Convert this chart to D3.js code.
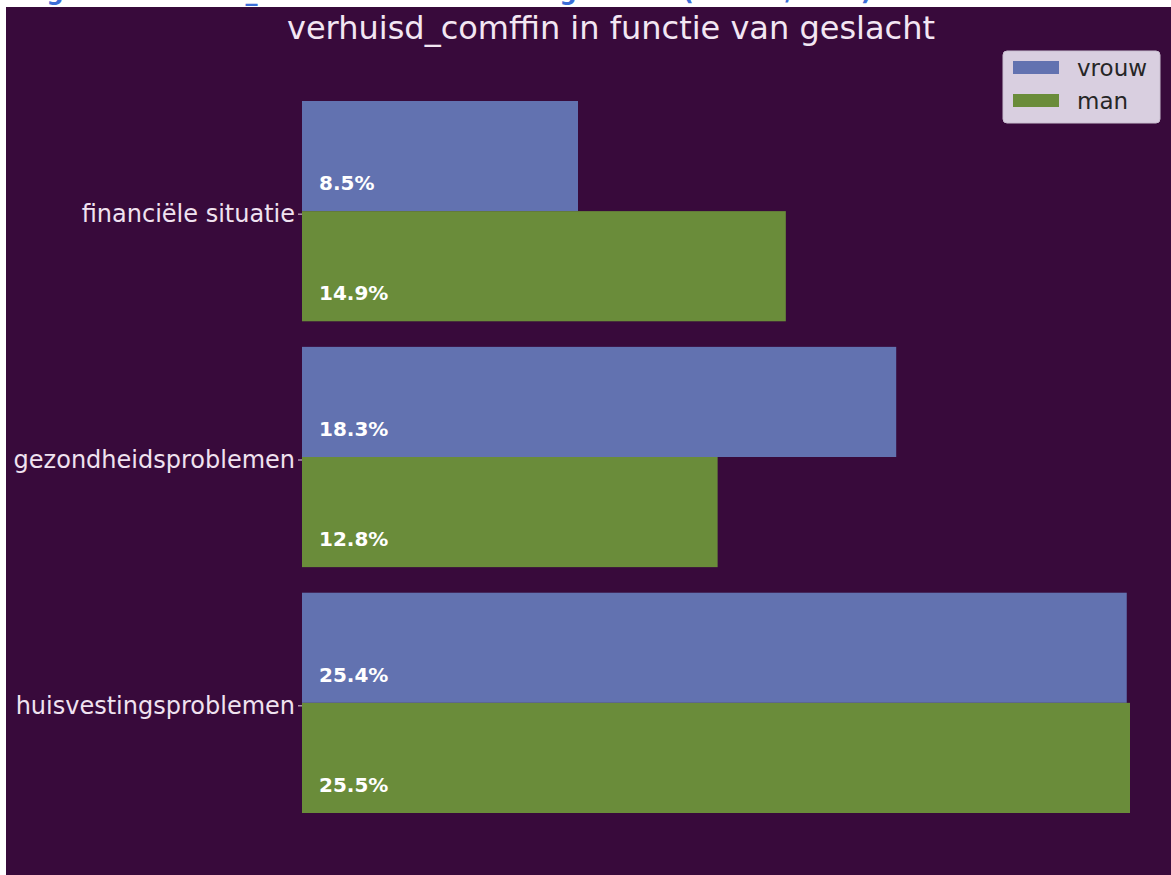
<!DOCTYPE html>
<html>
<head>
<meta charset="utf-8">
<script src="https://cdn.jsdelivr.net/npm/d3@7"></script>
<style>
  body { margin: 0; background: #fff; }
  svg { display: block; font-family: "DejaVu Sans", sans-serif; }
</style>
</head>
<body>
<svg width="1171" height="875"></svg>
<script>
// data
var categories = ["financiële situatie", "gezondheidsproblemen", "huisvestingsproblemen"];
var seriesNames = ["vrouw", "man"];
var vrouw = [8.5, 18.3, 25.4];
var man = [14.9, 12.8, 25.5];
var colors = ["#6272b0", "#6a8c3a"];

var svg = d3.select("svg"),
    width = +svg.attr("width"),
    height = +svg.attr("height");

// clipped heading of the page above the figure
var clip = svg.append("clipPath").attr("id", "topclip");
clip.append("rect").attr("x", 0).attr("y", 0).attr("width", width).attr("height", 7);
svg.append("text")
    .attr("clip-path", "url(#topclip)")
    .attr("x", 22)
    .attr("y", 0)
    .attr("fill", "#3b6fd8")
    .attr("font-size", 24)
    .attr("font-weight", "bold")
    .text("Figuur: verhuisd_comffin in functie van geslacht (vrouw / man)");

// figure background
svg.append("rect")
    .attr("x", 6).attr("y", 7)
    .attr("width", width - 6).attr("height", height - 7)
    .attr("fill", "#380a3b");

svg.append("text")
    .attr("x", 611)
    .attr("y", 39)
    .attr("text-anchor", "middle")
    .attr("fill", "#f3e6f3")
    .attr("font-size", 32)
    .text("verhuisd_comffin in functie van geslacht");

var x = d3.scaleLinear()
    .domain([0, 25.5])
    .range([302, 1130]);

var y = d3.scaleBand()
    .domain(categories)
    .range([101, 813])
    .paddingInner(0.104)
    .paddingOuter(0);

var sub = d3.scaleBand()
    .domain(seriesNames)
    .range([0, y.bandwidth()]);

var rows = [];
categories.forEach(function(c, i) {
  rows.push({cat: c, s: "vrouw", v: vrouw[i], col: colors[0]});
  rows.push({cat: c, s: "man", v: man[i], col: colors[1]});
});

var g = svg.append("g");

g.selectAll("rect.bar")
  .data(rows)
  .enter().append("rect")
    .attr("class", "bar")
    .attr("x", x(0))
    .attr("y", function(d) { return y(d.cat) + sub(d.s); })
    .attr("width", function(d) { return x(d.v) - x(0); })
    .attr("height", sub.bandwidth())
    .attr("fill", function(d) { return d.col; });

g.selectAll("text.val")
  .data(rows)
  .enter().append("text")
    .attr("class", "val")
    .attr("x", x(0) + 17)
    .attr("y", function(d) { return y(d.cat) + sub(d.s) + sub.bandwidth() - 21; })
    .attr("fill", "#ffffff")
    .attr("font-size", 20)
    .attr("font-weight", "bold")
    .text(function(d) { return d.v.toFixed(1) + "%"; });

// y axis labels
var yAxis = d3.axisLeft(y).tickSize(4).tickPadding(3);
var ax = svg.append("g")
    .attr("transform", "translate(" + x(0) + ",3)")
    .call(yAxis);
ax.select(".domain").remove();
ax.selectAll("line").attr("stroke", "#e6d6e6");
ax.selectAll("text")
    .attr("fill", "#f0e2f0")
    .attr("font-size", 24)
    .attr("font-family", "DejaVu Sans, sans-serif");

// legend
var leg = svg.append("g").attr("transform", "translate(1003,51)");
leg.append("rect")
    .attr("width", 157).attr("height", 72)
    .attr("rx", 4)
    .attr("fill", "#d9cfe0")
    .attr("stroke", "#c9bfd0");
seriesNames.forEach(function(n, i) {
  leg.append("rect")
      .attr("x", 10).attr("y", 10 + i * 33)
      .attr("width", 46).attr("height", 13)
      .attr("fill", colors[i]);
  leg.append("text")
      .attr("x", 74).attr("y", 25 + i * 33)
      .attr("fill", "#262626")
      .attr("font-size", 23)
      .text(n);
});
</script>
</body>
</html>
